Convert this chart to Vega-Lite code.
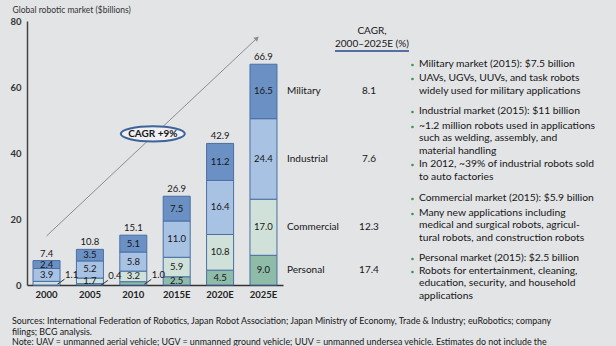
{
  "$schema": "https://vega.github.io/schema/vega-lite/v6.json",
  "width": 589,
  "height": 264,
  "autosize": {"type": "none"},
  "padding": {"left": 27, "top": 21, "right": 0, "bottom": 61},
  "background": "#e3e4e6",
  "config": {"view": {"stroke": null}, "font": "Lato", "text": {"font": "Lato", "color": "#161616"}},
  "datasets": {
    "seg": [
      {"year": "2000", "cat": "Personal", "value": 0},
      {"year": "2000", "cat": "Commercial", "value": 1.1},
      {"year": "2000", "cat": "Industrial", "value": 3.9},
      {"year": "2000", "cat": "Military", "value": 2.4},
      {"year": "2005", "cat": "Personal", "value": 0.4},
      {"year": "2005", "cat": "Commercial", "value": 1.7},
      {"year": "2005", "cat": "Industrial", "value": 5.2},
      {"year": "2005", "cat": "Military", "value": 3.5},
      {"year": "2010", "cat": "Personal", "value": 1.0},
      {"year": "2010", "cat": "Commercial", "value": 3.2},
      {"year": "2010", "cat": "Industrial", "value": 5.8},
      {"year": "2010", "cat": "Military", "value": 5.1},
      {"year": "2015E", "cat": "Personal", "value": 2.5},
      {"year": "2015E", "cat": "Commercial", "value": 5.9},
      {"year": "2015E", "cat": "Industrial", "value": 11.0},
      {"year": "2015E", "cat": "Military", "value": 7.5},
      {"year": "2020E", "cat": "Personal", "value": 4.5},
      {"year": "2020E", "cat": "Commercial", "value": 10.8},
      {"year": "2020E", "cat": "Industrial", "value": 16.4},
      {"year": "2020E", "cat": "Military", "value": 11.2},
      {"year": "2025E", "cat": "Personal", "value": 9.0},
      {"year": "2025E", "cat": "Commercial", "value": 17.0},
      {"year": "2025E", "cat": "Industrial", "value": 24.4},
      {"year": "2025E", "cat": "Military", "value": 16.5}
    ],
    "cats": [
      {"cat": "Military", "cagr": "8.1"},
      {"cat": "Industrial", "cagr": "7.6"},
      {"cat": "Commercial", "cagr": "12.3"},
      {"cat": "Personal", "cagr": "17.4"}
    ],
    "bullets": [
      {"y": 66.67, "lines": ["Military market (2015): $7.5 billion"]},
      {"y": 62.42, "lines": ["UAVs, UGVs, UUVs, and task robots", "widely used for military applications"]},
      {"y": 52.42, "lines": ["Industrial market (2015): $11 billion"]},
      {"y": 47.88, "lines": ["~1.2 million robots used in applications", "such as welding, assembly, and", "material handling"]},
      {"y": 36.36, "lines": ["In 2012, ~39% of industrial robots sold", "to auto factories"]},
      {"y": 26.06, "lines": ["Commercial market (2015): $5.9 billion"]},
      {"y": 21.52, "lines": ["Many new applications including", "medical and surgical robots, agricul-", "tural robots, and construction robots"]},
      {"y": 7.88, "lines": ["Personal market (2015): $2.5 billion"]},
      {"y": 3.94, "lines": ["Robots for entertainment, cleaning,", "education, security, and household", "applications"]}
    ],
    "notes": [
      {"y": -11.0, "t": "Sources: International Federation of Robotics, Japan Robot Association; Japan Ministry of Economy, Trade & Industry; euRobotics; company"},
      {"y": -14.1, "t": "filings; BCG analysis."},
      {"y": -17.2, "t": "Note: UAV = unmanned aerial vehicle; UGV = unmanned ground vehicle; UUV = unmanned undersea vehicle. Estimates do not include the"}
    ]
  },
  "encoding": {
    "x": {
      "field": "year", "type": "ordinal",
      "sort": ["2000", "2005", "2010", "2015E", "2020E", "2025E"],
      "scale": {"domain": ["2000", "2005", "2010", "2015E", "2020E", "2025E"], "range": [0, 256], "paddingInner": 0.378, "paddingOuter": 0.139},
      "axis": {"title": null, "labelAngle": 0, "labelFontSize": 9.5, "labelFontWeight": "bold", "labelColor": "#222", "ticks": false, "domainColor": "#333", "domainWidth": 1.5, "labelPadding": 4}
    }
  },
  "layer": [
    {
      "data": {"name": "seg"},
      "transform": [
        {"calculate": "indexof(['Personal','Commercial','Industrial','Military'], datum.cat)", "as": "k"},
        {"stack": "value", "groupby": ["year"], "sort": [{"field": "k", "order": "ascending"}], "as": ["lo", "hi"]},
        {"calculate": "(datum.lo + datum.hi) / 2", "as": "mid"}
      ],
      "layer": [
        {
          "mark": {"type": "bar", "stroke": "#4a6fa5", "strokeWidth": 1},
          "encoding": {
            "y": {
              "field": "lo", "type": "quantitative",
              "scale": {"domain": [0, 80], "nice": false, "zero": false},
              "axis": {"values": [0, 20, 40, 60, 80], "ticks": false, "grid": false, "labelPadding": 6, "labelFontSize": 9.5, "labelFontWeight": "bold", "labelColor": "#333", "domainColor": "#444", "domainWidth": 1.5,
                "title": "Global robotic market ($billions)", "titleAngle": 0, "titleX": -15, "titleY": -12, "titleAlign": "left", "titleBaseline": "middle", "titleFontSize": 8.5, "titleFontWeight": "normal", "titleColor": "#333"}
            },
            "y2": {"field": "hi"},
            "color": {"field": "cat", "type": "nominal", "legend": null,
              "scale": {"domain": ["Military", "Industrial", "Commercial", "Personal"], "range": ["#6b90c4", "#a8c2e3", "#cfe1d8", "#8ebca9"]}}
          }
        },
        {
          "transform": [{"filter": "datum.value >= 1.5"}],
          "mark": {"type": "text", "fontSize": 9.5, "baseline": "middle"},
          "encoding": {
            "y": {"field": "mid", "type": "quantitative", "scale": {"domain": [0, 80], "nice": false, "zero": false}},
            "text": {"field": "value", "type": "quantitative", "format": ".1f"}
          }
        },
        {
          "transform": [{"filter": "datum.value > 0 && datum.value < 1.5"}],
          "mark": {"type": "text", "fontSize": 9.5, "baseline": "middle", "dx": 25, "dy": -8},
          "encoding": {
            "y": {"field": "mid", "type": "quantitative", "scale": {"domain": [0, 80], "nice": false, "zero": false}},
            "text": {"field": "value", "type": "quantitative", "format": ".1f"}
          }
        },
        {
          "transform": [{"filter": "datum.value > 0 && datum.value < 1.5"}],
          "mark": {"type": "rule", "color": "#333", "strokeWidth": 1, "xOffset": 11, "x2Offset": 18, "yOffset": 1, "y2Offset": -4},
          "encoding": {
            "x2": {"field": "year"},
            "y": {"field": "mid", "type": "quantitative", "scale": {"domain": [0, 80], "nice": false, "zero": false}},
            "y2": {"field": "mid"}
          }
        },
        {
          "transform": [{"aggregate": [{"op": "sum", "field": "value", "as": "total"}], "groupby": ["year"]}],
          "mark": {"type": "text", "fontSize": 9.5, "baseline": "bottom", "dy": -2},
          "encoding": {
            "y": {"field": "total", "type": "quantitative", "scale": {"domain": [0, 80], "nice": false, "zero": false}},
            "text": {"field": "total", "type": "quantitative", "format": ".1f"}
          }
        },
        {
          "transform": [
            {"filter": "datum.year == '2025E'"},
            {"lookup": "cat", "from": {"data": {"name": "cats"}, "key": "cat", "fields": ["cagr"]}}
          ],
          "layer": [
            {
              "mark": {"type": "text", "fontSize": 10, "align": "left", "baseline": "middle", "dx": 23.5},
              "encoding": {
                "y": {"field": "mid", "type": "quantitative", "scale": {"domain": [0, 80], "nice": false, "zero": false}},
                "text": {"field": "cat", "type": "nominal"}
              }
            },
            {
              "mark": {"type": "text", "fontSize": 10, "align": "center", "baseline": "middle", "dx": 105.5},
              "encoding": {
                "y": {"field": "mid", "type": "quantitative", "scale": {"domain": [0, 80], "nice": false, "zero": false}},
                "text": {"field": "cagr", "type": "nominal"}
              }
            }
          ]
        }
      ]
    },
    {
      "data": {"values": [{}]},
      "mark": {"type": "rule", "color": "#8a8c90", "strokeWidth": 1, "x2Offset": -6.5},
      "encoding": {
        "x": {"datum": "2000"},
        "x2": {"datum": "2025E"},
        "y": {"datum": 14.85, "type": "quantitative", "scale": {"domain": [0, 80], "nice": false, "zero": false}},
        "y2": {"datum": 74.8}
      }
    },
    {
      "data": {"values": [{}]},
      "mark": {"type": "point", "shape": "triangle-up", "filled": true, "color": "#8a8c90", "size": 30, "angle": 47, "xOffset": -6.5, "opacity": 1},
      "encoding": {
        "x": {"datum": "2025E"},
        "y": {"datum": 74.8, "type": "quantitative", "scale": {"domain": [0, 80], "nice": false, "zero": false}}
      }
    },
    {
      "data": {"values": [{}]},
      "mark": {"type": "point", "shape": "M-1,0A1,0.235,0,1,0,1,0A1,0.235,0,1,0,-1,0Z", "size": 4096, "fill": "#eef0f3", "stroke": "#3d6399", "strokeWidth": 2, "opacity": 1, "fillOpacity": 1, "xOffset": 19.5},
      "encoding": {
        "x": {"datum": "2010"},
        "y": {"datum": 45.8, "type": "quantitative", "scale": {"domain": [0, 80], "nice": false, "zero": false}}
      }
    },
    {
      "data": {"values": [{}]},
      "mark": {"type": "text", "text": "CAGR +9%", "fontSize": 10, "fontWeight": "bold", "baseline": "middle", "dx": 19.5},
      "encoding": {
        "x": {"datum": "2010"},
        "y": {"datum": 45.8, "type": "quantitative", "scale": {"domain": [0, 80], "nice": false, "zero": false}}
      }
    },
    {
      "data": {"values": [{}]},
      "mark": {"type": "text", "text": ["CAGR,", "2000–2025E (%)"], "fontSize": 10, "lineHeight": 13, "baseline": "top", "dx": 108.5, "dy": -6},
      "encoding": {
        "x": {"datum": "2025E"},
        "y": {"datum": 76.7, "type": "quantitative", "scale": {"domain": [0, 80], "nice": false, "zero": false}}
      }
    },
    {
      "data": {"values": [{}]},
      "mark": {"type": "rule", "color": "#5570a0", "strokeWidth": 2, "xOffset": 71.5, "x2Offset": 145.5},
      "encoding": {
        "x": {"datum": "2025E"},
        "x2": {"datum": "2025E"},
        "y": {"datum": 70.9, "type": "quantitative", "scale": {"domain": [0, 80], "nice": false, "zero": false}},
        "y2": {"datum": 70.9}
      }
    },
    {
      "data": {"name": "bullets"},
      "mark": {"type": "point", "shape": "circle", "filled": true, "color": "#3f9150", "size": 7, "opacity": 1, "xOffset": 149},
      "encoding": {
        "x": {"datum": "2025E"},
        "y": {"field": "y", "type": "quantitative", "scale": {"domain": [0, 80], "nice": false, "zero": false}}
      }
    },
    {
      "data": {"name": "bullets"},
      "mark": {"type": "text", "fontSize": 10.3, "align": "left", "baseline": "top", "lineHeight": 12.5, "dx": 155.5, "dy": -6},
      "encoding": {
        "x": {"datum": "2025E"},
        "y": {"field": "y", "type": "quantitative", "scale": {"domain": [0, 80], "nice": false, "zero": false}},
        "text": {"field": "lines"}
      }
    },
    {
      "data": {"name": "notes"},
      "mark": {"type": "text", "fontSize": 8.9, "align": "left", "baseline": "middle", "dx": -34.5},
      "encoding": {
        "x": {"datum": "2000"},
        "y": {"field": "y", "type": "quantitative", "scale": {"domain": [0, 80], "nice": false, "zero": false}},
        "text": {"field": "t"}
      }
    }
  ]
}
